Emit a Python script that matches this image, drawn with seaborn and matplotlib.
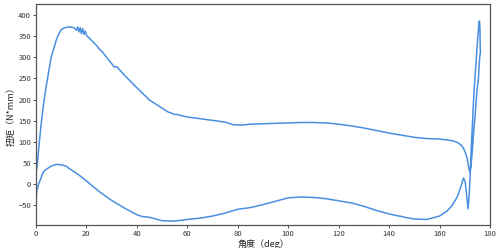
import matplotlib
matplotlib.use("Agg")
import matplotlib.pyplot as plt
import seaborn as sns
import pandas as pd

# lower branch (left -> right)
lower_x = [0, 0.3, 1, 2, 3, 4, 6, 8, 10, 12, 13, 15, 17, 20, 25, 30, 35, 40, 42, 45,
           50, 55, 60, 65, 70, 75, 80, 85, 90, 95, 100, 105, 110, 115, 120, 125, 130,
           135, 140, 143, 145, 147, 150, 155, 160, 163, 165, 167, 168.5, 169.5, 170.2,
           170.8, 171.3]
lower_y = [-45, -15, 0, 15, 30, 35, 43, 47, 46, 43, 38, 30, 22, 8, -17, -38, -56, -72,
           -76, -78, -86, -87, -83, -80, -75, -68, -59, -55, -48, -40, -32, -30, -31,
           -34, -39, -44, -52, -62, -70, -74, -76, -79, -82, -83, -75, -63, -50, -30,
           -5, 15, 5, -30, -58]

# spike at the right end
spike_x = [171.8, 172.2, 172.6, 173.0, 173.5, 174.0, 174.5, 174.8, 175.2, 175.6, 175.8,
           176.0, 176.1, 176.2, 175.9, 175.4, 174.8, 174.2, 173.6, 173.0, 172.4, 171.9,
           171.4]
spike_y = [-20, 30, 90, 140, 200, 250, 290, 320, 350, 380, 386, 370, 330, 310, 300, 250,
           220, 170, 130, 80, 40, 30, 45]

# upper branch (right -> left)
upper_x = [171.0, 170.2, 169.5, 168.5, 167, 165, 160, 155, 150, 145, 140, 135, 130, 125,
           120, 115, 110, 105, 100, 95, 90, 85, 82, 80, 78, 75, 70, 65, 60, 57, 56, 55,
           52, 50, 45, 40, 38, 35, 32, 31, 30, 28, 26, 25, 24, 22, 20, 19.5, 19, 18.5,
           18, 17.5, 17, 16.5, 16, 15, 13, 11, 10, 9, 8, 7, 6, 5, 4, 3, 2, 1, 0.5, 0]
upper_y = [60, 75, 85, 93, 99, 103, 107, 108, 111, 116, 121, 127, 133, 138, 142, 145,
           146, 146, 145, 144, 143, 142, 140, 140, 141, 147, 151, 155, 159, 163, 165,
           165, 172, 180, 199, 228, 240, 258, 278, 277, 285, 300, 315, 320, 328, 340,
           352, 362, 354, 368, 356, 370, 360, 372, 364, 370, 372, 369, 365, 355, 340,
           320, 300, 265, 230, 190, 140, 80, 45, 27]

xs = lower_x + spike_x + upper_x
ys = lower_y + spike_y + upper_y
df = pd.DataFrame({"angle": xs, "torque": ys})

sns.set_style("white")
plt.rcParams['font.family'] = ['Noto Sans CJK SC', 'DejaVu Sans']
plt.rcParams['axes.unicode_minus'] = True

fig = plt.figure(figsize=(5.0, 2.48), dpi=100)
ax = fig.add_axes([0.072, 0.093, 0.908, 0.891])
sns.lineplot(data=df, x="angle", y="torque", sort=False, estimator=None,
             color="#4a8fe0", linewidth=1.1, ax=ax)

ax.set_xlim(0, 180)
ax.set_ylim(-96, 426)
ax.set_xticks([0, 20, 40, 60, 80, 100, 120, 140, 160, 180])
ax.set_yticks([-50, 0, 50, 100, 150, 200, 250, 300, 350, 400])
ax.tick_params(axis='both', labelsize=5.5, length=2, width=0.6, direction='out',
               colors='#333333', pad=1.5, left=True, bottom=True)
for s in ax.spines.values():
    s.set_color('#555555')
    s.set_linewidth(0.9)
ax.set_xlabel("角度（deg）", fontsize=6.5, labelpad=1)
ax.set_ylabel("扭矩（N*mm）", fontsize=6.5, labelpad=2)

fig.savefig("out.png", dpi=100)
